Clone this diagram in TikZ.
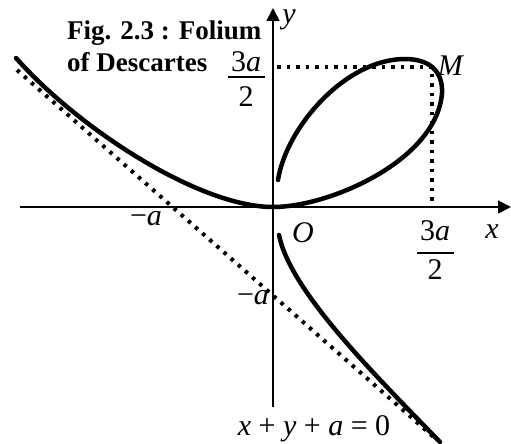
\documentclass[tikz,border=0pt]{standalone}
\usepackage{fontspec}
\setmainfont{Liberation Serif}
\usetikzlibrary{arrows.meta}
\begin{document}
\begin{tikzpicture}[x=1pt,y=-1pt,
  axis/.style={line width=1.8pt,-{Triangle[length=13pt,width=13pt]}},
  curve/.style={line width=4.5pt,line cap=round},
  dots/.style={line width=4pt,dash pattern=on 3.5pt off 6pt},
  lbl/.style={font=\fontsize{30}{34}\selectfont, inner sep=0pt},
  capt/.style={font=\fontsize{27}{32}\selectfont\bfseries, inner sep=0pt, anchor=west}]
\useasboundingbox (0,0) rectangle (511,444);
% axes
\coordinate (xs) at (20,207);
\coordinate (xe) at (511,207);
\coordinate (ys) at (273,407);
\coordinate (ye) at (273,8);
\draw[axis] (xs) -- (xe);
\draw[axis] (ys) -- (ye);
% asymptote
\coordinate (as) at (17,70);
\coordinate (ae) at (437,440);
\draw[dots] (as) -- (ae);
% guides to M
\coordinate (gy) at (277,67);
\coordinate (gm) at (432,67);
\coordinate (gx) at (432,205);
\draw[dots] (gy) -- (gm) -- (gx);
% folium: left branch + loop
\coordinate (lb) at (16,58);
\coordinate (o) at (273,207);
\coordinate (rt) at (442,93);
\coordinate (tp) at (405,59);
\coordinate (le) at (278,180);
\draw[curve] (lb) .. controls (80,130) and (200,207) .. (o)
  .. controls (330,207) and (437,160) .. (rt)
  .. controls (443,70) and (428,59) .. (tp)
  .. controls (345,59) and (286,128) .. (le);
% lower branch
\coordinate (bs) at (279,235);
\coordinate (be) at (440,442);
\draw[curve] (bs) .. controls (290,290) and (370,370) .. (be);
% labels
\node[capt] (c1) at (67,33) {Fig. 2.3 : Folium};
\node[capt] (c2) at (67,62) {of Descartes};
\node[lbl] (fn) at (246,62) {3\textit{a}};
\coordinate (fb1) at (228,77);
\coordinate (fb2) at (265,77);
\draw[line width=1.2pt] (fb1) -- (fb2);
\node[lbl] (fd) at (246,97) {2};
\node[lbl] (ylab) at (289,20) {\textit{y}};
\node[lbl] (mlab) at (451,66) {\textit{M}};
\node[lbl] (olab) at (303,233) {\textit{O}};
\node[lbl] (malab) at (146,219) {−\textit{a}};
\node[lbl] (xn) at (435,231) {3\textit{a}};
\coordinate (xb1) at (417,253);
\coordinate (xb2) at (454,253);
\draw[line width=1.2pt] (xb1) -- (xb2);
\node[lbl] (xd) at (435,270) {2};
\node[lbl] (xlab) at (492,232) {\textit{x}};
\node[lbl] (mya) at (253,298) {−\textit{a}};
\node[lbl] (eq) at (314,429) {\textit{x} + \textit{y} + \textit{a} = 0};
\end{tikzpicture}
\end{document}
